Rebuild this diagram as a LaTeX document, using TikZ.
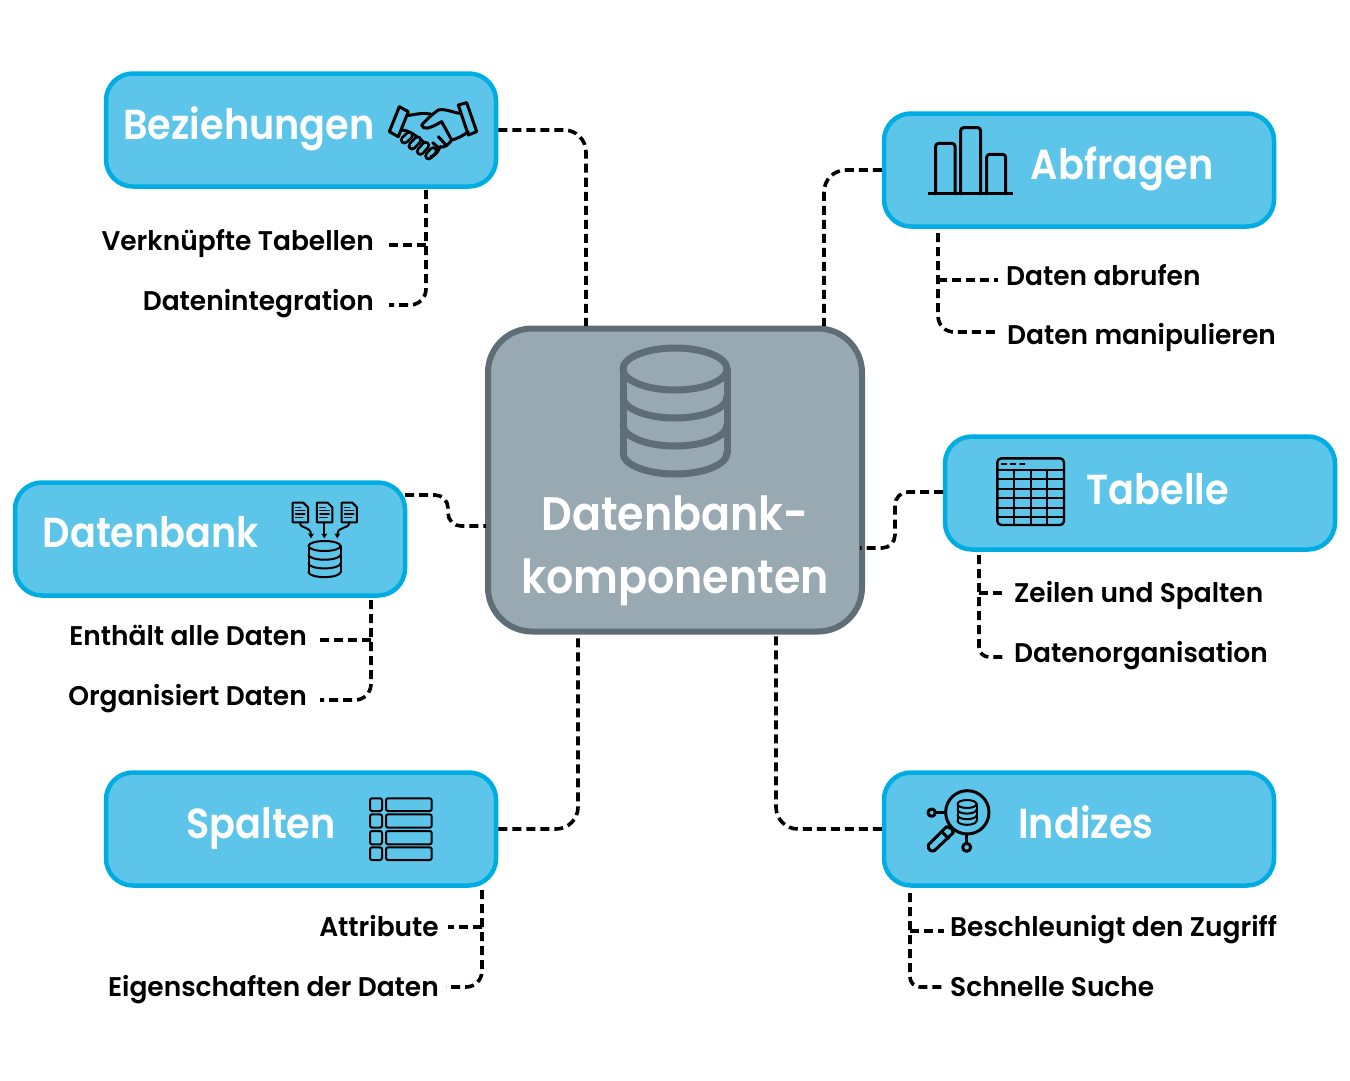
\documentclass[tikz,border=0pt]{standalone}
\usepackage{fontspec}
\setmainfont{Poppins}
\newfontfamily\titlefont{Poppins SemiBold}[FakeStretch=0.91]
\newfontfamily\labfont{Poppins SemiBold}[FakeStretch=0.98]
\usetikzlibrary{calc,arrows.meta}
\definecolor{boxfill}{HTML}{5CC5E9}
\definecolor{boxline}{HTML}{00ADE2}
\definecolor{corefill}{HTML}{98A9B2}
\definecolor{coreline}{HTML}{5F6D77}
\newcommand{\dbcyl}[6]{% x, y, rx, ry, step, colour-style
  \draw[#6] (#1,#2) ellipse[x radius=#3,y radius=#4];
  \draw[#6] (#1-#3,#2) -- (#1-#3,#2+3*#5);
  \draw[#6] (#1+#3,#2) -- (#1+#3,#2+3*#5);
  \foreach \k in {1,2,3}{
    \draw[#6] (#1+#3,#2+\k*#5) arc[start angle=0,end angle=180,x radius=#3,y radius=#4];
  }
}
\tikzset{
  catbox/.style={draw=boxline,fill=boxfill,line width=4.5pt,rounded corners=27pt,minimum width=390pt,minimum height=113pt,inner sep=0pt},
  corebox/.style={draw=coreline,fill=corefill,line width=6pt,rounded corners=44pt,minimum width=374pt,minimum height=303pt,inner sep=0pt},
  title/.style={text=white,font=\titlefont\fontsize{42}{42}\selectfont,inner sep=0pt},
  coretitle/.style={text=white,font=\titlefont\fontsize{47}{47}\selectfont,inner sep=0pt},
  lab/.style={text=black,font=\labfont\fontsize{27}{27}\selectfont,inner sep=0pt},
  conn/.style={draw=black,line width=3.6pt,dash pattern=on 9pt off 5pt,rounded corners=22pt},
  subconn/.style={draw=black,line width=3.6pt,dash pattern=on 9pt off 5pt,rounded corners=16pt},
  ico/.style={draw=black,line width=3pt,line cap=round,line join=round},
  icothin/.style={draw=black,line width=2pt,line cap=round,line join=round},
  coreico/.style={draw=coreline,line width=7pt,line join=round,line cap=round},
  fingerout/.style={draw=black,line width=9pt,line cap=round},
  fingerin/.style={draw=boxfill,line width=3.5pt,line cap=round},
}
\begin{document}
\begin{tikzpicture}[x=1pt,y=-1pt]
\useasboundingbox (0,0) rectangle (1350,1080);
% boxes
\node[corebox] (core) at (675,480) {};
\node[catbox] (bez) at (301,130) {};
\node[catbox] (abf) at (1079,170) {};
\node[catbox] (tab) at (1140,493) {};
\node[catbox] (dat) at (210,539) {};
\node[catbox] (spa) at (301,829) {};
\node[catbox] (ind) at (1079,829) {};
% anchors for connector ends
\coordinate (cN1) at (586,326);
\coordinate (cN2) at (824,326);
\coordinate (cE) at (860,548);
\coordinate (cW) at (486,526);
\coordinate (cS1) at (578,634);
\coordinate (cS2) at (776,634);
\coordinate (tabW) at (943,492);
\coordinate (tabK1) at (895,492);
\coordinate (tabK2) at (895,548);
\coordinate (datE) at (405,495);
\coordinate (datK1) at (448,495);
\coordinate (datK2) at (448,526);
% main connectors
\draw[conn] (bez.east) -| (cN1);
\draw[conn] (abf.west) -| (cN2);
\draw[conn,rounded corners=13pt] (tabW) -- (tabK1) -- (tabK2) -- (cE);
\draw[conn,rounded corners=13pt] (datE) -- (datK1) -- (datK2) -- (cW);
\draw[conn] (spa.east) -| (cS1);
\draw[conn] (ind.west) -| (cS2);
% titles
\node[title,anchor=base] (tbez) at (249,139) {Beziehungen};
\node[title,anchor=base] (tabf) at (1122,179) {Abfragen};
\node[title,anchor=base] (ttab) at (1158,504) {Tabelle};
\node[title,anchor=base] (tdat) at (151,547) {Datenbank};
\node[title,anchor=base] (tspa) at (261,838) {Spalten};
\node[title,anchor=base] (tind) at (1086,838) {Indizes};
\node[coretitle,anchor=base] (tc1) at (675,530) {Datenbank-};
\node[coretitle,anchor=base] (tc2) at (675,593) {komponenten};
% leaf labels
\node[lab,anchor=base east] (l11) at (374,250) {Verknüpfte Tabellen};
\node[lab,anchor=base east] (l12) at (374,310) {Datenintegration};
\node[lab,anchor=base west] (l21) at (1006,285) {Daten abrufen};
\node[lab,anchor=base west] (l22) at (1007,344) {Daten manipulieren};
\node[lab,anchor=base west] (l31) at (1014,602) {Zeilen und Spalten};
\node[lab,anchor=base west] (l32) at (1014,662) {Datenorganisation};
\node[lab,anchor=base east] (l41) at (307,645) {Enthält alle Daten};
\node[lab,anchor=base east] (l42) at (307,705) {Organisiert Daten};
\node[lab,anchor=base east] (l51) at (439,936) {Attribute};
\node[lab,anchor=base east] (l52) at (439,996) {Eigenschaften der Daten};
\node[lab,anchor=base west] (l61) at (950,936) {Beschleunigt den Zugriff};
\node[lab,anchor=base west] (l62) at (950,996) {Schnelle Suche};
% leaf connectors
\coordinate (b1) at (426,190); \coordinate (b2) at (426,245); \coordinate (b3) at (426,305);
\draw[subconn] (b1) -- (b3) -- (389,305);
\draw[subconn] (b2) -- (388,245);
\coordinate (a1) at (938,233); \coordinate (a2) at (938,280); \coordinate (a3) at (938,332);
\draw[subconn] (a1) -- (a3) -- (998,332);
\draw[subconn] (a2) -- (998,280);
\coordinate (t1) at (979,555); \coordinate (t2) at (979,593); \coordinate (t3) at (979,657);
\draw[subconn,rounded corners=10pt] (t1) -- (t3) -- (1006,657);
\draw[subconn] (t2) -- (1006,593);
\coordinate (d1) at (371,600); \coordinate (d2) at (371,640); \coordinate (d3) at (371,700);
\draw[subconn] (d1) -- (d3) -- (320,700);
\draw[subconn] (d2) -- (319,640);
\coordinate (s1) at (482,890); \coordinate (s2) at (482,927); \coordinate (s3) at (482,987);
\draw[subconn] (s1) -- (s3) -- (446,987);
\draw[subconn] (s2) -- (448,927);
\coordinate (i1) at (910,893); \coordinate (i2) at (910,931); \coordinate (i3) at (910,987);
\draw[subconn,rounded corners=10pt] (i1) -- (i3) -- (944,987);
\draw[subconn] (i2) -- (944,931);
% core icon
\dbcyl{675}{369}{52}{21}{28}{coreico}
% handshake icon
\begin{scope}[shift={(370,80)},x=0.3333pt,y=-0.3333pt]
\draw[ico] (88,80) -- (115,95) -- (85,170) -- (58,155) -- cycle;
\draw[ico] (265,75) -- (290,68) -- (320,155) -- (295,165) -- cycle;
\draw[ico] (112,107) .. controls (140,102) and (160,98) .. (182,102);
\draw[ico] (95,150) .. controls (120,150) and (150,175) .. (175,200);
\foreach \xa/\ya/\xb/\yb in {103/180/118/166,126/198/143/180,151/214/167/196,176/228/190/212}{
  \draw[fingerout] (\xa,\ya) -- (\xb,\yb);
  \draw[fingerin] (\xa,\ya) -- (\xb,\yb);
}
\draw[ico] (270,100) .. controls (250,98) and (225,85) .. (205,90) .. controls (190,100) and (170,118) .. (155,135) .. controls (160,150) and (175,148) .. (215,125) -- (245,180) .. controls (255,178) and (275,170) .. (295,155);
\draw[ico] (245,180) .. controls (235,195) and (222,205) .. (210,200) .. controls (205,215) and (195,228) .. (182,230);
\draw[ico] (205,170) -- (228,195);
\draw[ico] (188,188) -- (208,205);
\end{scope}
% chart icon
\begin{scope}[shift={(920,115)},x=0.3333pt,y=-0.3333pt]
\draw[ico,line cap=butt] (25,237) -- (278,237);
\draw[ico,rounded corners=3pt] (47,237) -- (47,85) -- (105,85) -- (105,237);
\draw[ico,rounded corners=3pt] (122,237) -- (122,38) -- (182,38) -- (182,237);
\draw[ico,rounded corners=3pt] (200,237) -- (200,118) -- (257,118) -- (257,237);
\end{scope}
% table icon
\begin{scope}[shift={(980,445)},x=0.3333pt,y=-0.3333pt]
\draw[icothin,line width=2.4pt,rounded corners=4pt] (52,40) rectangle (252,240);
\foreach \yy in {75,103,132,160,188,215}{\draw[icothin,line width=2.2pt] (52,\yy) -- (252,\yy);}
\foreach \xx in {103,152,202}{\draw[icothin,line width=2.2pt] (\xx,75) -- (\xx,240);}
\foreach \xx in {65,92,120}{\draw[icothin] (\xx,57) -- (\xx+14,57);}
\end{scope}
% data-in icon
\begin{scope}[shift={(280,490)},x=0.3333pt,y=-0.3333pt]
\foreach \xx in {38,111,185}{
  \draw[icothin] (\xx,38) -- (\xx+32,38) -- (\xx+46,52) -- (\xx+46,97) -- (\xx,97) -- cycle;
  \draw[icothin,line width=1.6pt] (\xx+9,52) -- (\xx+24,52) (\xx+9,62) -- (\xx+36,62) (\xx+9,72) -- (\xx+36,72) (\xx+9,83) -- (\xx+30,83);
}
\draw[icothin,-{Stealth[length=5pt,width=6pt]}] (60,97) .. controls (60,120) and (93,105) .. (93,145);
\draw[icothin,-{Stealth[length=5pt,width=6pt]}] (133,97) -- (133,145);
\draw[icothin,-{Stealth[length=5pt,width=6pt]}] (208,97) .. controls (208,120) and (172,105) .. (172,145);
\end{scope}
\dbcyl{324.5}{546}{16}{5}{8.7}{icothin}
% column icon
\begin{scope}[shift={(355,785)},x=0.3333pt,y=-0.3333pt]
\foreach \ya/\yb in {40/78,88/128,138/178,187/225}{
  \draw[icothin,rounded corners=2pt] (45,\ya) rectangle (81,\yb);
  \draw[icothin,rounded corners=2pt] (93,\ya) rectangle (230,\yb);
}
\end{scope}
% index icon
\begin{scope}[shift={(915,780)},x=0.3333pt,y=-0.3333pt]
\draw[ico] (157,97) circle[radius=65];
\draw[ico] (50,98) circle[radius=11];
\draw[ico] (61,98) -- (92,98);
\draw[ico] (155,202) circle[radius=12];
\draw[ico] (155,190) -- (155,162);
\draw[ico] (110,146) -- (95,140) -- (40,195) .. controls (38,212) and (50,215) .. (58,212) -- (115,158) -- cycle;
\draw[ico] (80,155) -- (100,175);
\end{scope}
\dbcyl{967}{804}{9.5}{4}{5.6}{icothin}
\end{tikzpicture}
\end{document}
